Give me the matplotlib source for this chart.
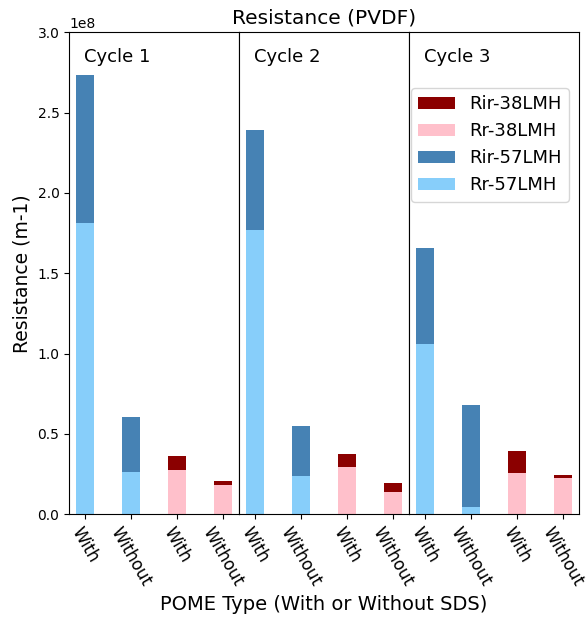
import numpy as np
import matplotlib
matplotlib.use("Agg")
import matplotlib.pyplot as plt

# POME type per bar; first pair is 57 LMH, second pair 38 LMH
pome_type = ["With", "Without", "With", "Without"]
cycles = ["Cycle 1", "Cycle 2", "Cycle 3"]

# reversible (Rr) and irreversible (Rir) resistance, m-1
rr_57 = [[1.81e8, 0.261e8], [1.767e8, 0.236e8], [1.058e8, 0.044e8]]
rir_57 = [[0.927e8, 0.344e8], [0.623e8, 0.313e8], [0.597e8, 0.634e8]]
rr_38 = [[0.278e8, 0.179e8], [0.291e8, 0.141e8], [0.259e8, 0.228e8]]
rir_38 = [[0.087e8, 0.026e8], [0.082e8, 0.056e8], [0.137e8, 0.017e8]]

fig, axes = plt.subplots(1, 3, figsize=(5.86, 6.21), dpi=100, sharey=True)
fig.subplots_adjust(left=0.118, right=0.988, top=0.948, bottom=0.172, wspace=0)

x57 = np.array([0, 1])
x38 = np.array([2, 3])
w = 0.4

for i, ax in enumerate(axes):
    ax.bar(x38, rir_38[i], w, bottom=rr_38[i], color="darkred", label="Rir-38LMH")
    ax.bar(x38, rr_38[i], w, color="pink", label="Rr-38LMH")
    ax.bar(x57, rir_57[i], w, bottom=rr_57[i], color="steelblue", label="Rir-57LMH")
    ax.bar(x57, rr_57[i], w, color="lightskyblue", label="Rr-57LMH")
    ax.set_xlim(-0.35, 3.35)
    ax.set_xticks(range(4))
    ax.set_xticklabels(pome_type, rotation=-60, fontsize=12)
    ax.text(0.09, 0.948, cycles[i], transform=ax.transAxes, fontsize=13, va="center")
    if i > 0:
        ax.tick_params(axis="y", left=False)

axes[0].set_ylim(0, 3.0e8)
axes[0].set_yticks(np.arange(0, 3.01e8, 0.5e8))
axes[0].tick_params(axis="y", labelsize=10)
axes[0].yaxis.get_offset_text().set_fontsize(10)
axes[0].set_ylabel("Resistance (m-1)", fontsize=13.5)
axes[1].set_title("Resistance (PVDF)", fontsize=14.5)
axes[1].set_xlabel("POME Type (With or Without SDS)", fontsize=14)

axes[2].legend(loc="upper right", bbox_to_anchor=(0.94, 0.884), borderaxespad=0,
               fontsize=13, handlelength=2.0)

plt.savefig("out.png")
